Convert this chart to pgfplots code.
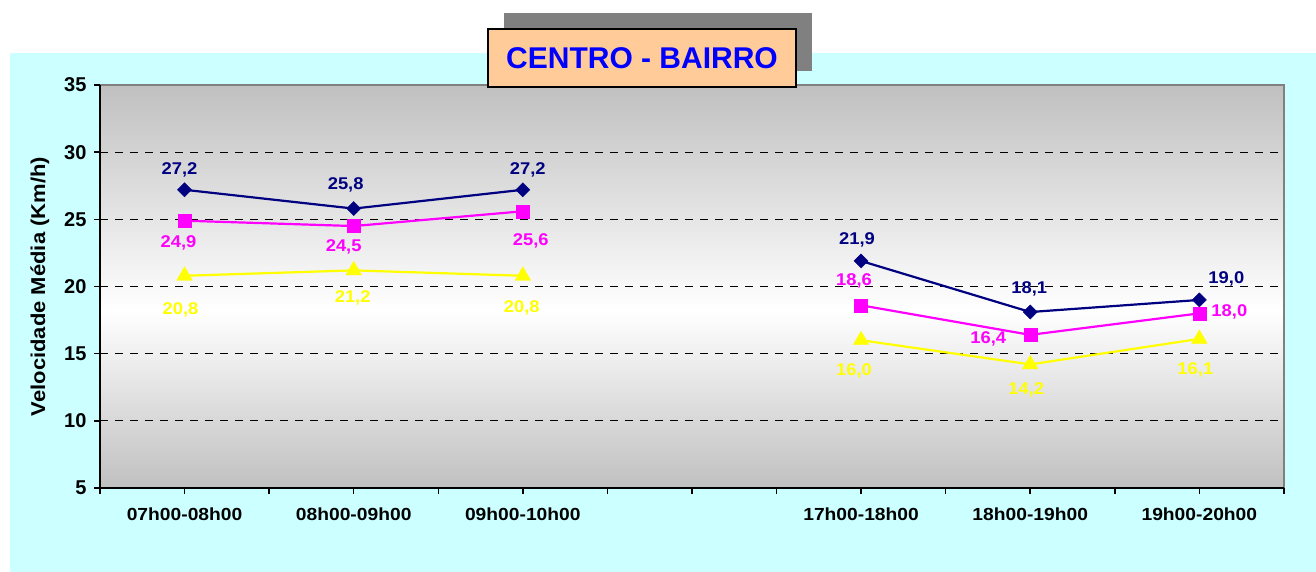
\documentclass[border=0pt]{standalone}
\usepackage{pgfplots}
\pgfplotsset{compat=1.18}
\usepackage{pgfplotstable}
\usepackage{fontspec}
\setmainfont{Liberation Sans}
\definecolor{cyanbg}{HTML}{CCFFFF}
\definecolor{navy}{HTML}{000080}
\definecolor{mag}{HTML}{FF00FF}
\definecolor{yel}{HTML}{FFFF00}
\definecolor{peach}{HTML}{FFCC99}
\definecolor{bgg}{HTML}{C0C0C0}
\definecolor{shadowg}{HTML}{808080}
\pgfdeclareverticalshading{plotbg}{100bp}{color(0bp)=(bgg); color(25bp)=(bgg); color(47bp)=(white); color(75bp)=(bgg); color(100bp)=(bgg)}

\pgfplotstableread{
x y dx dy
0 27.2 -5 20
1 25.8 -8 24
2 27.2 5 20
3 nan 0 0
4 21.9 -4 21
5 18.1 -1 23
6 19.0 27 21
}\navytab
\pgfplotstableread{
x y dx dy
0 24.9 -6 -22
1 24.5 -10 -21
2 25.6 8 -30
3 nan 0 0
4 18.6 -7 24
5 16.4 -42 -4
6 18.0 30 1
}\magtab
\pgfplotstableread{
x y dx dy
0 20.8 -4 -34
1 21.2 -1 -27
2 20.8 -1 -32
3 nan 0 0
4 16.0 -7 -31
5 14.2 -4 -25
6 16.1 -4 -31
}\yeltab

\begin{document}
\begin{tikzpicture}
\useasboundingbox (0pt,0pt) rectangle (1316pt,-572pt);
\fill[cyanbg] (10pt,-53pt) rectangle (1316pt,-572pt);
\begin{axis}[
  at={(100pt,-488pt)}, anchor=south west,
  scale only axis, width=1184pt, height=403pt,
  xmin=-0.5, xmax=6.5, ymin=5, ymax=35,
  axis background/.style={shading=plotbg, draw=shadowg, line width=1.5pt},
  axis x line*=bottom, axis y line*=left,
  axis line style={black, line width=2pt, -},
  tick align=outside,
  major tick length=6pt, minor tick length=6pt,
  tick style={black, line width=1.5pt},
  xtick={0,...,6},
  xticklabels={07h00-08h00,08h00-09h00,09h00-10h00,,17h00-18h00,18h00-19h00,19h00-20h00},
  minor xtick={-0.5,0.5,...,6.5},
  ytick={10,15,...,30},
  extra y ticks={5,35},
  extra y tick style={grid=none},
  ymajorgrids,
  grid style={black, line width=1.2pt, dash pattern=on 8pt off 7pt},
  /pgf/number format/assume math mode=true,
  x tick label style={font=\fontsize{17.5}{18}\selectfont\bfseries, xscale=1.1, yshift=-10pt},
  y tick label style={font=\fontsize{20}{20}\selectfont\bfseries, xshift=-4pt},
  ylabel={Velocidade Média (Km/h)},
  ylabel style={font=\fontsize{20}{20}\selectfont\bfseries, at={(axis description cs:-0.0507,0.5)}, anchor=center, xscale=1.1},
  unbounded coords=jump,
  point meta=y,
  nodes near coords={\pgfmathprintnumber[fixed,fixed zerofill,precision=1,use comma,assume math mode=true]{\pgfplotspointmeta}},
  visualization depends on={\thisrow{dx}\as\dx},
  visualization depends on={\thisrow{dy}\as\dy},
]
\addplot[navy, line width=2.2pt, mark=square*, mark size=5pt, mark options={solid, rotate=45, line width=0.4pt},
  nodes near coords style={anchor=center, xshift=\dx pt, yshift=\dy pt, text=navy, font=\fontsize{17}{18}\selectfont\bfseries, xscale=1.08}]
  table[x=x,y=y]{\navytab};
\addplot[mag, line width=2.2pt, mark=square*, mark size=6.5pt, mark options={solid, line width=0.4pt},
  nodes near coords style={anchor=center, xshift=\dx pt, yshift=\dy pt, text=mag, font=\fontsize{17}{18}\selectfont\bfseries, xscale=1.08}]
  table[x=x,y=y]{\magtab};
\addplot[yel, line width=2.2pt, mark=triangle*, mark size=9pt, mark options={solid, line width=0.4pt},
  nodes near coords style={anchor=center, xshift=\dx pt, yshift=\dy pt, text=yel, font=\fontsize{17}{18}\selectfont\bfseries, xscale=1.08}]
  table[x=x,y=y]{\yeltab};
\end{axis}
\fill[shadowg] (504pt,-13pt) rectangle (812pt,-71pt);
\filldraw[fill=peach, draw=black, line width=1.5pt] (488pt,-29pt) rectangle (796pt,-87pt);
\node[text=blue, font=\fontsize{30}{32}\selectfont\bfseries] at (642pt,-58pt) {CENTRO - BAIRRO};
\end{tikzpicture}
\end{document}
